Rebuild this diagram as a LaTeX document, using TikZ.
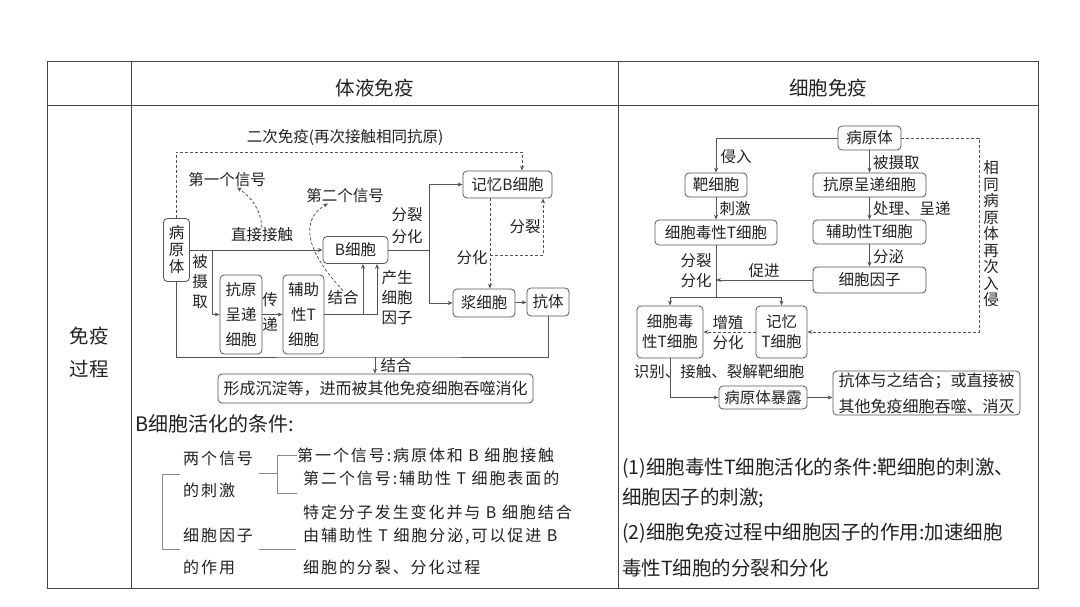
\documentclass[tikz,border=0pt]{standalone}
\usepackage{fontspec}
\setmainfont{Noto Sans CJK SC}
\newfontfamily\spacedfont[LetterSpace=12]{Noto Sans CJK SC}
\usetikzlibrary{arrows.meta}
\definecolor{linegray}{HTML}{555555}
\definecolor{gridgray}{HTML}{444444}
\definecolor{txt}{HTML}{222222}
\definecolor{bracegray}{HTML}{8A8A8A}
\newcommand\dfont{\fontsize{15.5}{17}\selectfont}
\newcommand\lfont[1]{\fontsize{15.5}{#1}\selectfont}
\tikzset{
  grid/.style={draw=gridgray,line width=0.9pt},
  head/.style={inner sep=0pt,text=txt,align=center,font=\fontsize{19.5}{33}\selectfont},
  box/.style={draw=linegray,line width=0.8pt,rounded corners=4pt,inner sep=0pt,text=txt,align=center,font=\dfont},
  lbl/.style={inner sep=0pt,text=txt,align=center,font=\dfont},
  ln/.style={draw=linegray,line width=0.8pt},
  arr/.style={ln,-{Stealth[length=5pt,width=4pt]}},
  dasharr/.style={arr,dash pattern=on 3pt off 2pt},
  brace/.style={draw=bracegray,line width=0.9pt},
  note/.style={anchor=west,inner sep=0pt,text=txt,font=\spacedfont\fontsize{16}{18}\selectfont},
  para/.style={anchor=west,inner sep=0pt,text=txt,font=\fontsize{19.5}{22}\selectfont},
}
\begin{document}
\begin{tikzpicture}[x=1pt,y=-1pt]
\useasboundingbox (0,0) rectangle (1080,607);
% table frame
\draw[grid] (47,61) rectangle (1038,588);
\draw[grid] (47,105) -- (1038,105);
\draw[grid] (131,61) -- (131,588) (618,61) -- (618,588);
\node[head] (thum) at (374.5,88) {体液免疫};
\node[head] (tcell) at (828,88) {细胞免疫};
\node[head] (tproc) at (89,353) {免疫\\过程};

% humoral immunity
\node[box,minimum width=26pt,minimum height=63pt] (hpath) at (176.5,250) {病\\原\\体};
\node[box,minimum width=65pt,minimum height=27pt] (hB) at (355.5,250) {B细胞};
\node[box,minimum width=42pt,minimum height=79pt,font=\lfont{25}] (hapc) at (241,314.5) {抗原\\呈递\\细胞};
\node[box,minimum width=41pt,minimum height=79pt,font=\lfont{25}] (hth) at (303.5,314.5) {辅助\\性T\\细胞};
\node[box,minimum width=89pt,minimum height=27pt] (hmem) at (507.5,184.5) {记忆B细胞};
\node[box,minimum width=62pt,minimum height=28pt] (hplasma) at (484,303) {浆细胞};
\node[box,minimum width=42pt,minimum height=28pt] (hab) at (548,302) {抗体};
\node[box,minimum width=315pt,minimum height=29pt,font=\fontsize{16}{18}\selectfont] (hres) at (375.5,388.5) {形成沉淀等，进而被其他免疫细胞吞噬消化};
\node[lbl] (hsec) at (345,137) {二次免疫(再次接触相同抗原)};
\node[lbl] (sig1) at (227,180) {第一个信号};
\node[lbl] (sig2) at (345,196) {第二个信号};
\node[lbl] (hdir) at (262,235) {直接接触};
\node[lbl,font=\lfont{20}] (htake) at (200,282) {被\\摄\\取};
\node[lbl,font=\lfont{25}] (hpass) at (270,312) {传\\递};
\node[lbl] (hbind) at (343,298) {结合};
\node[lbl,font=\lfont{20}] (hcyt) at (397,298) {产生\\细胞\\因子};
\node[lbl,font=\lfont{22}] (hdiv) at (407,226) {分裂\\分化};
\node[lbl] (hdiff) at (472,258) {分化};
\node[lbl] (hsplit) at (525,227) {分裂};
\node[lbl] (hbind2) at (396,366) {结合};
\coordinate (hj1) at (212,250);
\coordinate (hj2) at (363,314.5);
\coordinate (hj3) at (377,314.5);
\coordinate (hj4) at (429,250);
\coordinate (hd) at (490,255);
\coordinate (hd2) at (543,255);
\coordinate (htop) at (522,152);
\coordinate (hbot) at (375,357);
\draw[dasharr] (hpath.north) |- (htop) -- (htop |- hmem.north);
\draw[arr] (hpath.east) -- (hB.west);
\draw[arr] (hj1) |- (hapc.west);
\draw[arr] (hapc) -- (hth);
\draw[ln] (hth.east) -- (hj3);
\draw[arr] (hj2) -- (hj2 |- hB.south);
\draw[arr] (hj3) -- (hj3 |- hB.south);
\draw[ln] (hB.east) -- (hj4);
\draw[arr] (hj4) |- (hmem.west);
\draw[arr] (hj4) |- (hplasma.west);
\draw[arr] (hplasma) -- (hab);
\draw[dasharr] (hmem.south -| hd) -- (hplasma.north -| hd);
\draw[dasharr] (hd) -- (hd2) -- (hd2 |- hmem.south);
\draw[ln] (hpath.south) |- (hbot) -| (hab.south);
\draw[arr] (hbot) -- (hbot |- hres.north);
\draw[dasharr] (hdir.north) to[out=95,in=-35] ([xshift=10pt]sig1.south);
\draw[dasharr] (hbind.north) .. controls (305,250) and (300,220) .. ([xshift=-17pt]sig2.south);

% conditions for B cell activation
\node[para,font=\fontsize{20}{22}\selectfont] (bcond) at (135,424) {B细胞活化的条件:};
\node[note] (two1) at (183,458) {两个信号};
\node[note] (two2) at (183,490) {的刺激};
\node[note] (cyt1) at (183,535) {细胞因子};
\node[note] (cyt2) at (183,567) {的作用};
\node[note] (s1) at (297,455) {第一个信号:病原体和 B 细胞接触};
\node[note] (s2) at (303,478) {第二个信号:辅助性 T 细胞表面的};
\node[note] (s3) at (303,512) {特定分子发生变化并与 B 细胞结合};
\node[note] (s4) at (303,536) {由辅助性 T 细胞分泌,可以促进 B};
\node[note] (s5) at (303,567) {细胞的分裂、分化过程};
\draw[brace] (180,474) -- (162,474) -- (162,549) -- (180,549);
\draw[brace] (259,473) -- (277,473);
\draw[brace] (297,455) -- (277,455) -- (277,493) -- (297,493);
\draw[brace] (259,549) -- (296,549);

% cellular immunity
\node[box,minimum width=63pt,minimum height=24pt] (cpath) at (869.5,138) {病原体};
\node[box,minimum width=62pt,minimum height=24pt] (ctarget) at (716,185) {靶细胞};
\node[box,minimum width=122pt,minimum height=25pt] (cctl) at (716,232.5) {细胞毒性T细胞};
\node[box,minimum width=113pt,minimum height=24pt] (capc) at (869.5,185) {抗原呈递细胞};
\node[box,minimum width=113pt,minimum height=24pt] (cth) at (869.5,232) {辅助性T细胞};
\node[box,minimum width=113pt,minimum height=26pt] (ccyt) at (869.5,280) {细胞因子};
\node[box,minimum width=66pt,minimum height=52pt,font=\lfont{20}] (cctl2) at (670,332) {细胞毒\\性T细胞};
\node[box,minimum width=51pt,minimum height=52pt,font=\lfont{20}] (cmem) at (781.5,332) {记忆\\T细胞};
\node[box,minimum width=88pt,minimum height=23pt] (cexp) at (763,397.5) {病原体暴露};
\node[box,minimum width=187pt,minimum height=44pt,font=\fontsize{16}{26}\selectfont] (cfin) at (926.5,393) {抗体与之结合；或直接被\\其他免疫细胞吞噬、消灭};
\node[lbl] (cin) at (736,157) {侵入};
\node[lbl] (cstim) at (735,209) {刺激};
\node[lbl,anchor=west] (ctake) at (873,163) {被摄取};
\node[lbl,anchor=west] (cproc) at (873,209) {处理、呈递};
\node[lbl,anchor=west] (csec) at (873,257) {分泌};
\node[lbl,font=\lfont{20}] (cdiv) at (696,271) {分裂\\分化};
\node[lbl] (cpro) at (764,271) {促进};
\node[lbl,font=\lfont{20}] (cprol) at (728,333) {增殖\\分化};
\node[lbl] (crec) at (719,372) {识别、接触、裂解靶细胞};
\node[lbl,font=\lfont{16.5}] (cagain) at (991,234) {相\\同\\病\\原\\体\\再\\次\\入\\侵};
\coordinate (cj) at (716,297);
\coordinate (cd) at (979,332);
\draw[arr] (cpath.west) -| (ctarget.north);
\draw[arr] (cpath) -- (capc);
\draw[arr] (capc) -- (cth);
\draw[arr] (cth) -- (ccyt);
\draw[arr] (ctarget) -- (cctl);
\draw[ln] (cctl.south) -- (cj);
\draw[arr] (cj) -| (cctl2.north);
\draw[arr] (cj) -| (cmem.north);
\draw[arr] (ccyt.west) -- (ccyt.west -| cj);
\draw[dasharr] (cpath.east) -| (cd) -- (cmem.east);
\draw[dasharr] (cmem) -- (cctl2);
\draw[arr] (cctl2.south) |- (cexp.west);
\draw[arr] (cexp.east) -- (cexp.east -| cfin.west);

% notes on cellular immunity
\node[para] (c1) at (622,468) {(1)细胞毒性T细胞活化的条件:靶细胞的刺激、};
\node[para] (c2) at (622,498) {细胞因子的刺激;};
\node[para] (c3) at (622,533) {(2)细胞免疫过程中细胞因子的作用:加速细胞};
\node[para] (c4) at (622,568) {毒性T细胞的分裂和分化};
\end{tikzpicture}
\end{document}
